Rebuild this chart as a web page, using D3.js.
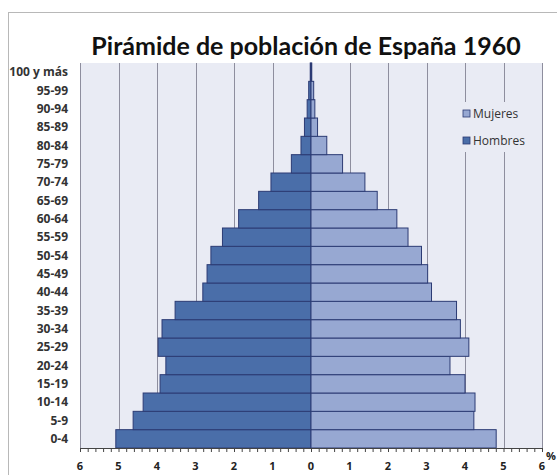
<!DOCTYPE html>
<html>
<head>
<meta charset="utf-8">
<script src="https://cdn.jsdelivr.net/npm/d3@7"></script>
<style>
  body { margin: 0; background: #fff; }
  svg { display: block; font-family: "Open Sans", sans-serif; }
</style>
</head>
<body>
<div id="chart"></div>
<script>
// grupos de edad, de abajo a arriba
var edades = ["0-4", "5-9", "10-14", "15-19", "20-24", "25-29", "30-34", "35-39", "40-44",
  "45-49", "50-54", "55-59", "60-64", "65-69", "70-74", "75-79", "80-84", "85-89",
  "90-94", "95-99", "100 y más"];
// % de la poblacion total
var hombres = [5.07, 4.62, 4.36, 3.92, 3.77, 3.97, 3.87, 3.53, 2.81, 2.7, 2.6, 2.3,
  1.88, 1.36, 1.04, 0.51, 0.26, 0.17, 0.1, 0.06, 0.02];
var mujeres = [4.81, 4.23, 4.26, 4.0, 3.61, 4.1, 3.88, 3.78, 3.13, 3.03, 2.87, 2.52,
  2.23, 1.72, 1.4, 0.82, 0.41, 0.17, 0.1, 0.07, 0.02];
var ticks = [-6, -5, -4, -3, -2, -1, 0, 1, 2, 3, 4, 5, 6];

var width = 557, height = 475,
  margin = { left: 80, right: 15, top: 63, bottom: 27 };

var colorH = "#4a6ea9", colorM = "#97a8d2", borde = "#2c3b74";

var svg = d3.select("#chart").append("svg")
  .attr("width", width)
  .attr("height", height);

// marco exterior
svg.append("rect")
  .attr("x", 8.5).attr("y", 12.5)
  .attr("width", 600).attr("height", 600)
  .attr("fill", "none")
  .attr("stroke", "#b8b8b8");

var x = d3.scaleLinear()
  .domain([-6, 6])
  .range([margin.left, width - margin.right]);

var y = d3.scaleBand()
  .domain(edades)
  .range([height - margin.bottom, margin.top])
  .padding(0);

// fondo del area de trazado
svg.append("rect")
  .attr("x", x(-6)).attr("y", margin.top)
  .attr("width", x(6) - x(-6))
  .attr("height", height - margin.bottom - margin.top)
  .attr("fill", "#e9ebf4");

svg.append("g").selectAll("line")
  .data(ticks)
  .enter().append("line")
  .attr("x1", function(d) { return Math.round(x(d)) + 0.5; })
  .attr("x2", function(d) { return Math.round(x(d)) + 0.5; })
  .attr("y1", margin.top)
  .attr("y2", height - margin.bottom)
  .attr("stroke", "#8e8e9e")
  .attr("stroke-width", 1);

var datos = edades.map(function(e, i) {
  return { edad: e, h: hombres[i], m: mujeres[i] };
});

svg.append("g").selectAll("rect")
  .data(datos)
  .enter().append("rect")
  .attr("x", function(d) { return x(-d.h); })
  .attr("y", function(d) { return y(d.edad); })
  .attr("width", function(d) { return x(0) - x(-d.h); })
  .attr("height", y.bandwidth())
  .attr("fill", colorH)
  .attr("stroke", borde)
  .attr("stroke-width", 1);

svg.append("g").selectAll("rect")
  .data(datos)
  .enter().append("rect")
  .attr("x", x(0))
  .attr("y", function(d) { return y(d.edad); })
  .attr("width", function(d) { return x(d.m) - x(0); })
  .attr("height", y.bandwidth())
  .attr("fill", colorM)
  .attr("stroke", borde)
  .attr("stroke-width", 1);

// eje x
var xAxis = d3.axisBottom(x)
  .tickValues(d3.range(-6, 6.001, 0.2))
  .tickSize(4)
  .tickFormat("");

var gx = svg.append("g")
  .attr("transform", "translate(0," + (height - margin.bottom) + ")")
  .call(xAxis);
gx.select(".domain").attr("stroke", "#444");
gx.selectAll(".tick line").attr("stroke", "#444");

svg.append("g").selectAll("text")
  .data(ticks)
  .enter().append("text")
  .attr("x", function(d) { return x(d); })
  .attr("y", height - 5)
  .attr("text-anchor", "middle")
  .attr("font-size", 11)
  .attr("font-weight", "bold")
  .attr("fill", "#222")
  .text(function(d) { return Math.abs(d); });

svg.append("text")
  .attr("x", x(6) + 9)
  .attr("y", height - margin.bottom + 12)
  .attr("text-anchor", "middle")
  .attr("font-size", 11)
  .attr("font-weight", "bold")
  .attr("fill", "#222")
  .text("%");

// etiquetas de edad
svg.append("g").selectAll("text")
  .data(edades)
  .enter().append("text")
  .attr("x", 68)
  .attr("y", function(d) { return y(d) + y.bandwidth() / 2; })
  .attr("dy", "0.35em")
  .attr("text-anchor", "end")
  .attr("font-size", 12)
  .attr("font-weight", "bold")
  .attr("fill", "#333")
  .text(function(d) { return d; });

// titulo
svg.append("text")
  .attr("x", 306)
  .attr("y", 55)
  .attr("text-anchor", "middle")
  .attr("font-family", "Lato, sans-serif")
  .attr("font-size", 25)
  .attr("font-weight", "bold")
  .attr("fill", "#111")
  .text("Pirámide de población de España 1960");

// leyenda
var leyenda = [{ t: "Mujeres", c: colorM }, { t: "Hombres", c: colorH }];
svg.append("rect")
  .attr("x", 456).attr("y", 102)
  .attr("width", 80).attr("height", 50)
  .attr("fill", "#e9ebf4");

var lg = svg.append("g").selectAll("g")
  .data(leyenda)
  .enter().append("g")
  .attr("transform", function(d, i) { return "translate(463," + (114 + i * 27) + ")"; });
lg.append("rect")
  .attr("x", 0).attr("y", -4)
  .attr("width", 7).attr("height", 7)
  .attr("fill", function(d) { return d.c; })
  .attr("stroke", borde)
  .attr("stroke-width", 0.8);
lg.append("text")
  .attr("x", 10)
  .attr("dy", "0.35em")
  .attr("font-size", 12)
  .attr("fill", "#333")
  .text(function(d) { return d.t; });
</script>
</body>
</html>
